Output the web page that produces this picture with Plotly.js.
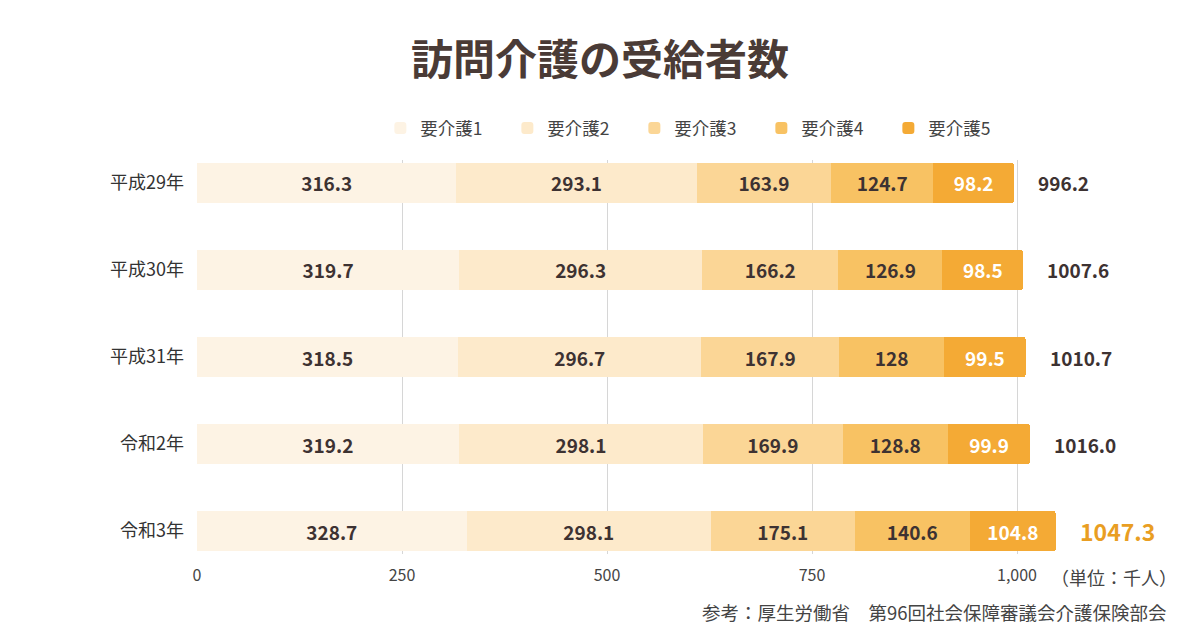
<!DOCTYPE html>
<html><head><meta charset="utf-8">
<script src="https://cdn.plot.ly/plotly-3.0.1.min.js"></script>
<style>body{margin:0;background:#fff}#chart{width:1200px;height:630px}</style>
</head><body><div id="chart"></div>
<script>
const years = ["平成29年","平成30年","平成31年","令和2年","令和3年"];
const seriesNames = ["要介護1","要介護2","要介護3","要介護4","要介護5"];
const care1 = [316.3, 319.7, 318.5, 319.2, 328.7];
const care2 = [293.1, 296.3, 296.7, 298.1, 298.1];
const care3 = [163.9, 166.2, 167.9, 169.9, 175.1];
const care4 = [124.7, 126.9, 128, 128.8, 140.6];
const care5 = [98.2, 98.5, 99.5, 99.9, 104.8];
const totals = [996.2, 1007.6, 1010.7, 1016.0, 1047.3];
const xTicks = [0, 250, 500, 750, 1000];

const colors = ["#FDF3E4","#FDEACB","#FBD696","#F8C263","#F4AA35"];
const textColors = ["#3d3232","#3d3232","#3d3232","#3d3232","#ffffff"];
const allSeries = [care1, care2, care3, care4, care5];
const FONT = '"Noto Sans CJK JP", "Noto Sans", sans-serif';

const traces = allSeries.map((vals, i) => ({
  type: 'bar', orientation: 'h', name: seriesNames[i],
  y: years, x: vals,
  marker: {color: colors[i], line: {width: 0}},
  text: vals.map(v => String(v)),
  textposition: 'inside', insidetextanchor: 'middle', constraintext: 'none',
  textfont: {family: FONT, size: 19, color: textColors[i], weight: 700},
  hoverinfo: 'skip'
}));

const annotations = totals.map((t, i) => ({
  x: t, y: years[i], xref: 'x', yref: 'y', xanchor: 'left', yanchor: 'middle',
  xshift: 22, showarrow: false,
  text: '<b>' + t.toFixed(1) + '</b>',
  font: {family: FONT, size: i === totals.length - 1 ? 23 : 19, color: i === totals.length - 1 ? '#E99E22' : '#3d3232'}
}));
annotations.push({
  x: 1000, y: 0, xref: 'x', yref: 'paper', xanchor: 'left', yanchor: 'top', yshift: -8, xshift: 32,
  showarrow: false, text: '（単位：千人）',
  font: {family: FONT, size: 18, color: '#444'}
});
annotations.push({
  x: 1, y: 0, xref: 'paper', yref: 'paper', xanchor: 'right', yanchor: 'top', yshift: -43, xshift: -12,
  showarrow: false, text: '参考：厚生労働省　第96回社会保障審議会介護保険部会',
  font: {family: FONT, size: 18.5, color: '#444'}
});

const layout = {
  width: 1200, height: 630,
  paper_bgcolor: '#fff', plot_bgcolor: '#fff',
  margin: {l: 197, r: 19, t: 160, b: 76},
  title: {text: '<b>訪問介護の受給者数</b>', x: 0.5, xref: 'container', xanchor: 'center', y: 0.905, yanchor: 'middle',
          font: {family: FONT, size: 42, color: '#4a3b36'}},
  barmode: 'stack', bargap: 0.54, barcornerradius: 3,
  showlegend: true,
  legend: {orientation: 'h', x: 0.509, xanchor: 'center', y: 1.081, yanchor: 'middle',
           traceorder: 'normal', entrywidth: 82, entrywidthmode: 'pixels',
           font: {family: FONT, size: 17.5, color: '#444'}},
  xaxis: {range: [0, 1200], tickvals: xTicks, ticktext: xTicks.map(v => v.toLocaleString('en-US')),
          showgrid: true, gridcolor: '#d6d6d6', gridwidth: 1, zeroline: false, showline: false,
          ticks: '', ticklabelstandoff: 10,
          tickfont: {family: FONT, size: 16, color: '#444'}, fixedrange: true},
  yaxis: {type: 'category', categoryorder: 'array', categoryarray: years,
          range: [4.264, -0.264], showgrid: false, zeroline: false, showline: false, ticks: '',
          ticklabelstandoff: 12,
          tickfont: {family: FONT, size: 18, color: '#333'}, fixedrange: true},
  annotations: annotations
};

Plotly.newPlot('chart', traces, layout, {displayModeBar: false, staticPlot: true});
</script>
</body></html>
